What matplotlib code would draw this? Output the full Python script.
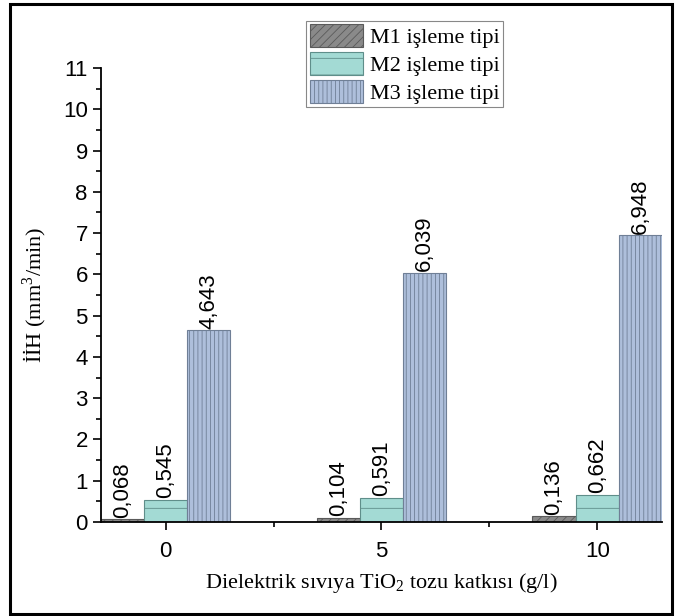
import numpy as np
import matplotlib.pyplot as plt
from matplotlib.patches import Rectangle
from matplotlib.ticker import MultipleLocator

plt.rcParams['font.family'] = ['Liberation Sans', 'DejaVu Sans']
plt.rcParams['mathtext.fontset'] = 'custom'
plt.rcParams['mathtext.rm'] = 'Liberation Serif'
plt.rcParams['hatch.linewidth'] = 0.6

# veriler
katki = [0, 5, 10]
m1 = [0.068, 0.104, 0.136]
m2 = [0.545, 0.591, 0.662]
m3 = [4.643, 6.039, 6.948]
etiketler = ['M1 işleme tipi', 'M2 işleme tipi', 'M3 işleme tipi']

renkler = ['#8a8a8a', '#a3dad4', '#aebfdb']
taramalar = ['////', '-', '||||']
kenar = ['#5a5a5a', '#5f8e8a', '#6f7f96']

fig = plt.figure(figsize=(6.81, 6.16), dpi=100)
ax = fig.add_axes([0.1483, 0.1526, 0.8237, 0.737])

x = np.array(katki, dtype=float)
seriler = [m1, m2, m3]
for i, (vals, lab) in enumerate(zip(seriler, etiketler)):
    pos = x + (i - 1)
    ax.bar(pos, vals, width=1.0, color=renkler[i], edgecolor=kenar[i],
           hatch=taramalar[i], linewidth=0.8, label=lab)
    for xp, v in zip(pos, vals):
        ax.text(xp, v + 0.04, f'{v:.3f}'.replace('.', ','), rotation=90,
                ha='center', va='bottom', fontsize=16)

ax.set_xlim(-1.5, 11.5)
ax.set_ylim(0, 11)
ax.set_xticks(katki)
ax.xaxis.set_minor_locator(MultipleLocator(2.5))
ax.yaxis.set_major_locator(MultipleLocator(1))
ax.yaxis.set_minor_locator(MultipleLocator(0.5))
ax.tick_params(axis='both', which='major', direction='out', length=6, width=1.2, labelsize=16)
ax.tick_params(axis='x', which='major', pad=8)
ax.tick_params(axis='both', which='minor', direction='out', length=3.5, width=1.2)
for s in ['top', 'right']:
    ax.spines[s].set_visible(False)
for s in ['left', 'bottom']:
    ax.spines[s].set_linewidth(1.3)

ax.set_ylabel('İİH (mm$^3$/min)', fontfamily='Liberation Serif', fontsize=16, labelpad=10)
ax.set_xlabel('Dielektrik sıvıya TiO$_2$ tozu katkısı (g/l)',
              fontfamily='Liberation Serif', fontsize=16, labelpad=6)

leg = fig.legend(loc='upper center', bbox_to_anchor=(0.594, 0.966),
                 prop={'family': 'Liberation Serif', 'size': 16},
                 handlelength=2.4, handleheight=1.2, handletextpad=0.3,
                 labelspacing=0.18, borderpad=0.15, borderaxespad=0,
                 fancybox=False, edgecolor='#888888', framealpha=1)
leg.get_frame().set_linewidth(0.8)

fig.patches.append(Rectangle((0.015, 0.003), 0.972, 0.99, transform=fig.transFigure,
                             fill=False, edgecolor='black', linewidth=2.2))

fig.savefig('out.png', dpi=100)
